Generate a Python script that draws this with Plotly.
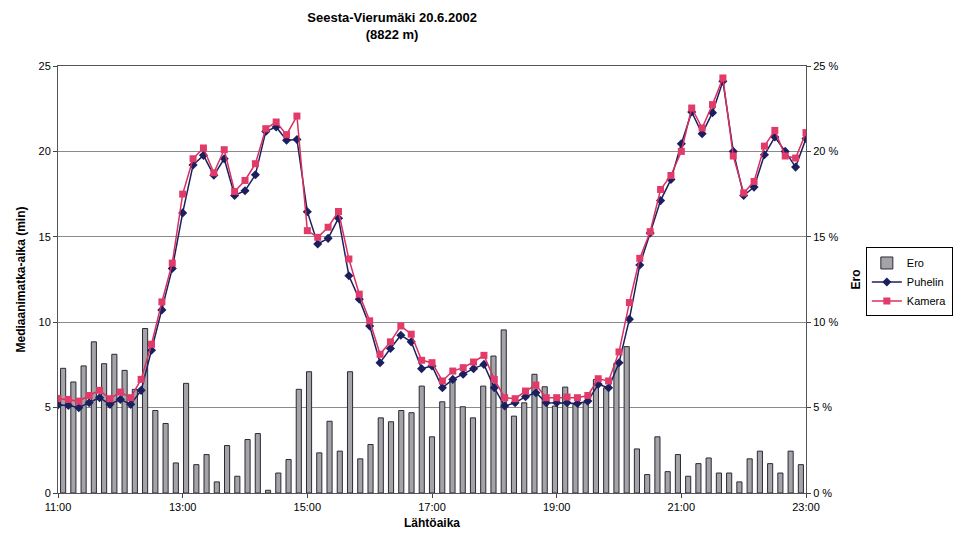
import plotly.graph_objects as go

# 10-minute departure times 11:00 .. 23:00
times = [f"{11 + (m // 60)}:{m % 60:02d}" for m in range(0, 721, 10)]
tick_labels = ["11:00", "13:00", "15:00", "17:00", "19:00", "21:00", "23:00"]

puhelin = [5.15, 5.13, 4.99, 5.28, 5.58, 5.19, 5.48, 5.19, 6.01, 8.36,
           10.72, 13.15, 16.4, 19.2, 19.77, 18.6, 19.57, 17.42, 17.7, 18.63,
           21.17, 21.43, 20.65, 20.7, 16.47, 14.58, 14.91, 16.09, 12.72, 11.35,
           9.78, 7.63, 8.46, 9.24, 8.85, 7.28, 7.44, 6.16, 6.65, 6.95,
           7.28, 7.53, 6.16, 5.09, 5.28, 5.64, 5.87, 5.28, 5.28, 5.28,
           5.24, 5.38, 6.36, 6.16, 7.63, 10.18, 13.35, 15.22, 17.12, 18.36,
           20.45, 22.31, 21.04, 22.27, 24.11, 20.0, 17.42, 17.91, 19.8, 20.84,
           20.0, 19.08, 20.75]

kamera = [5.54, 5.48, 5.38, 5.71, 6.01, 5.52, 5.91, 5.58, 6.65, 8.71,
          11.19, 13.46, 17.5, 19.57, 20.2, 18.75, 20.1, 17.65, 18.3, 19.28,
          21.33, 21.72, 20.98, 22.07, 15.36, 14.97, 15.56, 16.48, 13.7, 11.64,
          10.08, 8.12, 8.85, 9.78, 9.3, 7.77, 7.63, 6.56, 7.14, 7.34,
          7.67, 8.06, 6.65, 5.58, 5.52, 5.97, 6.32, 5.58, 5.58, 5.62,
          5.58, 5.71, 6.69, 6.56, 8.26, 11.15, 13.74, 15.3, 17.77, 18.59,
          20.0, 22.54, 21.37, 22.74, 24.3, 19.73, 17.57, 18.24, 20.31, 21.23,
          19.73, 19.61, 21.1]

ero = [7.3, 6.5, 7.44, 8.85, 7.57, 8.12, 7.18, 6.07, 9.63, 4.83,
       4.07, 1.76, 6.42, 1.66, 2.25, 0.65, 2.78, 0.98, 3.13, 3.48,
       0.16, 1.17, 1.96, 6.07, 7.1, 2.35, 4.2, 2.45, 7.1, 2.0,
       2.84, 4.4, 4.17, 4.83, 4.7, 6.26, 3.29, 5.34, 6.56, 5.05,
       4.4, 6.26, 8.02, 9.55, 4.5, 5.28, 6.95, 6.22, 5.09, 6.2,
       5.19, 5.28, 6.65, 6.16, 7.6, 8.57, 2.58, 1.08, 3.29, 1.25,
       2.25, 0.98, 1.72, 2.05, 1.17, 1.17, 0.65, 2.0, 2.45, 1.72,
       1.17, 2.45, 1.66]

FONT = "Liberation Sans, Arial, sans-serif"

fig = go.Figure()
fig.add_trace(go.Bar(
    x=times, y=ero, name="Ero", xaxis="x", yaxis="y",
    marker=dict(color="#a3a3a8", line=dict(color="#2a2a35", width=1)),
    width=0.5,
))
fig.add_trace(go.Scatter(
    x=times, y=puhelin, name="Puhelin", xaxis="x2", yaxis="y2",
    mode="lines+markers",
    line=dict(color="#1c1f5e", width=1.5),
    marker=dict(symbol="diamond", size=7, color="#1c1f5e"),
))
fig.add_trace(go.Scatter(
    x=times, y=kamera, name="Kamera", xaxis="x2", yaxis="y2",
    mode="lines+markers",
    line=dict(color="#d8305f", width=1.5),
    marker=dict(symbol="square", size=7, color="#e23b6a"),
))

fig.update_layout(
    width=965, height=549,
    margin=dict(l=58, r=159, t=66, b=56),
    paper_bgcolor="white", plot_bgcolor="white",
    font=dict(family=FONT, size=11, color="black"),
    title=dict(
        text="<b>Seesta-Vierumäki 20.6.2002<br>(8822 m)</b>",
        x=431 / 965, xanchor="center", xref="paper",
        yref="container", y=1 - 22 / 549, yanchor="middle",
        font=dict(family=FONT, size=13),
    ),
    bargap=0.5,
    showlegend=True,
    legend=dict(
        x=1.08, xanchor="left", y=0.575, yanchor="top",
        bordercolor="black", borderwidth=1,
        font=dict(family=FONT, size=11),
        tracegroupgap=0, itemwidth=30,
    ),
    xaxis=dict(
        type="category", categoryorder="array", categoryarray=times,
        range=[-0.5, len(times) - 0.5],
        showticklabels=False, ticks="", showgrid=False, showline=False,
        zeroline=False,
    ),
    yaxis=dict(
        side="right", range=[0, 25], dtick=5,
        ticksuffix=" %", ticks="outside", ticklen=4,
        showgrid=True, gridcolor="#8a8a8a", gridwidth=1,
        showline=True, linecolor="#555", zeroline=False,
        title=dict(text="<b>Ero</b>", font=dict(family=FONT, size=12), standoff=14),
    ),
    xaxis2=dict(
        type="category", categoryorder="array", categoryarray=times,
        overlaying="x", anchor="y2", side="bottom",
        range=[0, len(times) - 1],
        tickmode="array", tickvals=tick_labels, ticktext=tick_labels,
        ticks="outside", ticklen=4, showgrid=False,
        showline=True, linecolor="#555", mirror=True,
        title=dict(text="<b>Lähtöaika</b>", font=dict(family=FONT, size=12), standoff=6),
    ),
    yaxis2=dict(
        overlaying="y", side="left", anchor="x2", range=[0, 25], dtick=5,
        ticks="outside", ticklen=4, showgrid=False,
        showline=True, linecolor="#555", zeroline=False,
        title=dict(text="<b>Mediaanimatka-aika (min)</b>", font=dict(family=FONT, size=12), standoff=10),
    ),
)

fig.write_html("out.html")
